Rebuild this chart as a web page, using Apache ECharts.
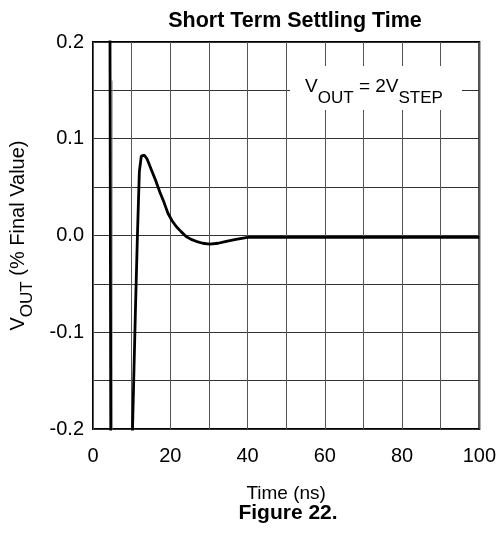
<!DOCTYPE html>
<html>
<head>
<meta charset="utf-8">
<script src="https://cdn.jsdelivr.net/npm/echarts@6/dist/echarts.min.js"></script>
<style>
html,body{margin:0;padding:0;background:#fff;}
#c{width:499px;height:533px;}
</style>
</head>
<body>
<div id="c"></div>
<script>
// Data
const timeNs = [4.2, 4.8, 9.6, 10.2, 11.0, 11.5, 12.0, 12.5, 13.3, 14.0, 15.1, 16.2, 17.3, 18.4, 19.4, 20.5, 21.6, 22.8, 24.1, 25.4, 26.7, 28.4, 30.2, 32.4, 34.5, 37.0, 40.0, 50.0, 70.0, 100.0];
const vout   = [0.6, -0.6, -0.6, -0.205, -0.075, 0.0, 0.066, 0.082, 0.083, 0.079, 0.068, 0.057, 0.045, 0.034, 0.023, 0.015, 0.009, 0.004, -0.001, -0.004, -0.006, -0.008, -0.009, -0.008, -0.006, -0.004, -0.002, -0.002, -0.002, -0.002];
// faint rebound trace beside the falling edge
const ringTime = [4.95, 4.95];
const ringV    = [0.16, -0.6];
const xTickLabels = ['0', '20', '40', '60', '80', '100'];
const yTickLabels = ['-0.2', '-0.1', '0.0', '0.1', '0.2'];

const font = 'Liberation Sans, Arial, sans-serif';
const chart = echarts.init(document.getElementById('c'), null, {renderer: 'canvas'});
chart.setOption({
  animation: false,
  backgroundColor: '#fff',
  title: {
    text: 'Short Term Settling Time',
    left: 290, top: 5, textAlign: 'center',
    textStyle: {fontFamily: font, fontWeight: 'bold', fontSize: 21.5, color: '#000'}
  },
  grid: {left: 93, right: 18, top: 42, bottom: 104, show: true, borderColor: '#000', borderWidth: 2, backgroundColor: 'transparent'},
  xAxis: {
    type: 'value', min: 0, max: 100, interval: 10,
    axisLine: {show: false}, axisTick: {show: false},
    splitLine: {show: true, lineStyle: {color: '#555', width: 1}},
    axisLabel: {
      margin: 17, color: '#000', fontFamily: font, fontSize: 20,
      formatter: function (v) { const s = String(Math.round(v)); return xTickLabels.indexOf(s) >= 0 ? s : ''; }
    },
    name: 'Time (ns)', nameLocation: 'middle', nameGap: 55,
    nameTextStyle: {color: '#000', fontFamily: font, fontSize: 19}
  },
  yAxis: {
    type: 'value', min: -0.2, max: 0.2, interval: 0.05,
    axisLine: {show: false}, axisTick: {show: false},
    splitLine: {show: true, lineStyle: {color: '#333', width: 1}},
    axisLabel: {
      margin: 9, color: '#000', fontFamily: font, fontSize: 20,
      formatter: function (v) { const t = (Math.round(v * 10) / 10).toFixed(1); return (Math.abs(v * 10 - Math.round(v * 10)) < 1e-6 && yTickLabels.indexOf(t) >= 0) ? t : ''; }
    },
    name: '{v|V}{s|OUT}{v| (% Final Value)}', nameLocation: 'middle', nameGap: 57, nameRotate: 90,
    nameTextStyle: {
      color: '#000', fontFamily: font, fontSize: 20,
      rich: {
        v: {fontFamily: font, fontSize: 20, color: '#000', verticalAlign: 'top', lineHeight: 28},
        s: {fontFamily: font, fontSize: 17, color: '#000', verticalAlign: 'bottom', lineHeight: 28}
      }
    }
  },
  graphic: [
    {type: 'rect', z: 50, shape: {x: 290, y: 66, width: 172, height: 44}, style: {fill: '#fff'}},
    {type: 'text', z: 51, x: 374, y: 92,
      style: {
        text: '{v|V}{s|OUT}{v| = 2V}{s|STEP}',
        align: 'center', verticalAlign: 'middle',
        fontFamily: font, fontSize: 19, fill: '#000',
        rich: {
          v: {fontFamily: font, fontSize: 19, fill: '#000', verticalAlign: 'top', lineHeight: 29},
          s: {fontFamily: font, fontSize: 17, fill: '#000', verticalAlign: 'bottom', lineHeight: 29}
        }
      }
    },
    {type: 'text', z: 51, x: 288, y: 513,
      style: {text: 'Figure 22.', align: 'center', verticalAlign: 'middle', fontFamily: font, fontWeight: 'bold', fontSize: 21, fill: '#000'}
    }
  ],
  series: [{
    type: 'line',
    data: timeNs.map(function (t, i) { return [t, vout[i]]; }),
    showSymbol: false, symbol: 'none', smooth: false, clip: true,
    lineStyle: {color: '#000', width: 2.8},
    z: 10
  }, {
    type: 'line',
    data: ringTime.map(function (t, i) { return [t, ringV[i]]; }),
    showSymbol: false, symbol: 'none', clip: true,
    lineStyle: {color: '#888', width: 1},
    z: 9
  }]
});
</script>
</body>
</html>
